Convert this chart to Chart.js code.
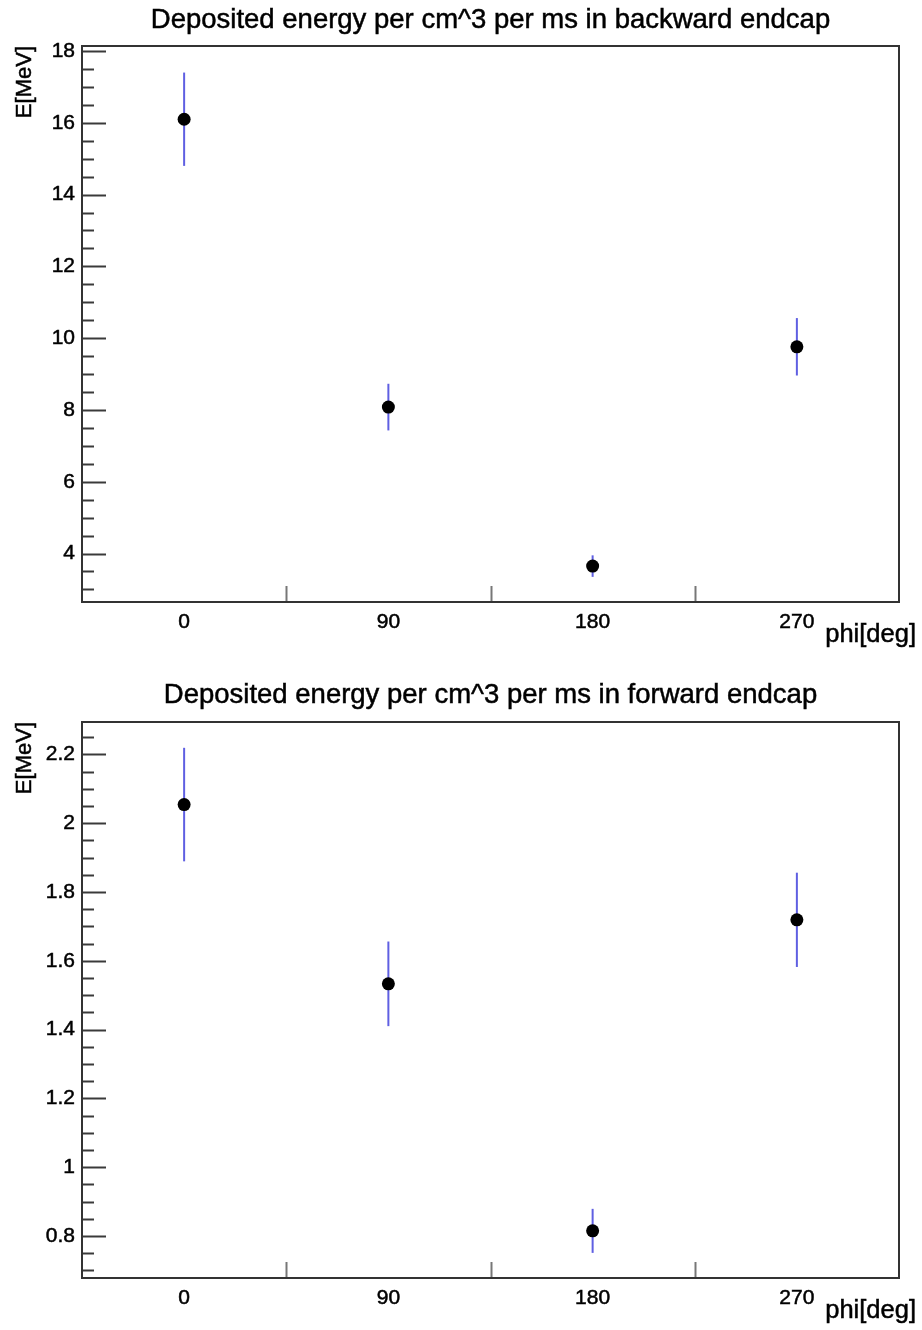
<!DOCTYPE html>
<html>
<head>
<meta charset="utf-8">
<script src="https://cdn.jsdelivr.net/npm/chart.js@4/dist/chart.umd.min.js"></script>
<style>
  html, body { margin: 0; padding: 0; background: #fff; }
  #wrap { position: relative; width: 922px; height: 1330px; }
  canvas { position: absolute; left: 0; }
</style>
</head>
<body>
<div id="wrap">
  <canvas id="backward" width="922" height="676" style="top:0"></canvas>
  <canvas id="forward" width="922" height="654" style="top:676px"></canvas>
</div>
<script>
// --------------------
// Data
// --------------------
const phiLabels = [0, 90, 180, 270];
const binEdges = [45, 135, 225];

const backwardE = [16.1, 8.08, 3.65, 9.76];
const backwardErr = [1.3, 0.65, 0.3, 0.8];

const forwardE = [2.054, 1.533, 0.815, 1.719];
const forwardErr = [0.165, 0.123, 0.064, 0.137];

const FONT = "'Liberation Sans', Arial, Helvetica, sans-serif";

// --------------------
// Plugin: ROOT-like frame, inward ticks and texts
// --------------------
const rootFrame = {
  id: 'rootFrame',
  afterDraw(chart, args, opts) {
    const { ctx, chartArea: a } = chart;
    const x = chart.scales.x, y = chart.scales.y;
    ctx.save();

    // y ticks (inward, long for majors)
    ctx.strokeStyle = '#3a3a3a';
    ctx.lineWidth = 2;
    y.ticks.forEach(t => {
      const py = Math.round(y.getPixelForValue(t.value)) + 0.5;
      const len = isMajor(t.value, opts.major) ? 24 : 12;
      ctx.beginPath();
      ctx.moveTo(a.left, py);
      ctx.lineTo(a.left + len, py);
      ctx.stroke();
    });

    // x ticks at bin edges
    ctx.strokeStyle = '#777';
    binEdges.forEach(e => {
      const px = Math.round(x.getPixelForValue(e)) + 0.5;
      ctx.beginPath();
      ctx.moveTo(px, a.bottom);
      ctx.lineTo(px, a.bottom - 16);
      ctx.stroke();
    });

    // frame
    ctx.strokeStyle = '#333';
    ctx.lineWidth = 2;
    ctx.strokeRect(a.left, a.top, a.right - a.left, a.bottom - a.top);

    // titles (slight stroke to mimic the heavier original rendering)
    ctx.fillStyle = '#000';
    ctx.strokeStyle = '#000';
    ctx.lineWidth = 0.5;
    ctx.textBaseline = 'alphabetic';
    ctx.textAlign = 'center';
    ctx.font = '27.5px ' + FONT;
    ctx.strokeText(opts.title, (a.left + a.right) / 2, opts.titleY);
    ctx.fillText(opts.title, (a.left + a.right) / 2, opts.titleY);

    ctx.textAlign = 'right';
    ctx.font = '25.5px ' + FONT;
    ctx.strokeText('phi[deg]', 916, a.bottom + 40);
    ctx.fillText('phi[deg]', 916, a.bottom + 40);

    ctx.translate(31, a.top);
    ctx.rotate(-Math.PI / 2);
    ctx.textAlign = 'right';
    ctx.font = '22px ' + FONT;
    ctx.strokeText('E[MeV]', 0, 0);
    ctx.fillText('E[MeV]', 0, 0);
    ctx.restore();
  }
};

function isMajor(v, step) {
  const r = v / step;
  return Math.abs(r - Math.round(r)) < 1e-6;
}

function makeChart(id, values, errs, ymin, ymax, minor, major, title, titleY, padBottom) {
  const errorBars = values.map((v, i) => ({
    type: 'line',
    data: [{ x: phiLabels[i], y: v - errs[i] }, { x: phiLabels[i], y: v + errs[i] }],
    borderColor: '#5f5fe2',
    borderWidth: 2,
    pointRadius: 0,
    showLine: true,
    order: 2
  }));

  return new Chart(document.getElementById(id), {
    type: 'scatter',
    data: {
      datasets: [
        ...errorBars,
        {
          data: values.map((v, i) => ({ x: phiLabels[i], y: v })),
          backgroundColor: '#000',
          borderColor: '#000',
          pointRadius: 6.5,
          pointBorderWidth: 0,
          order: 1
        }
      ]
    },
    options: {
      responsive: false,
      animation: false,
      devicePixelRatio: 1,
      layout: { padding: { top: 46, right: 23, left: 0, bottom: padBottom } },
      plugins: {
        legend: { display: false },
        tooltip: { enabled: false },
        rootFrame: { title, titleY, major }
      },
      scales: {
        x: {
          type: 'linear',
          min: -45,
          max: 315,
          afterBuildTicks: s => { s.ticks = phiLabels.map(v => ({ value: v })); },
          afterFit: s => { s.height = 40; },
          grid: { display: false, drawTicks: false },
          border: { display: false },
          ticks: {
            color: '#000', font: { family: FONT, size: 21 }, padding: 8, maxRotation: 0,
            textStrokeColor: '#000', textStrokeWidth: 0.5
          }
        },
        y: {
          min: ymin,
          max: ymax,
          afterBuildTicks: s => {
            const t = [];
            for (let v = Math.ceil(ymin / minor) * minor; v <= ymax + 1e-9; v += minor) {
              t.push({ value: Number(v.toFixed(4)) });
            }
            s.ticks = t;
          },
          afterFit: s => { s.width = 82; },
          grid: { display: false, drawTicks: false },
          border: { display: false },
          ticks: {
            color: '#000',
            font: { family: FONT, size: 21 },
            padding: 7,
            autoSkip: false,
            textStrokeColor: '#000',
            textStrokeWidth: 0.5,
            callback: v => isMajor(v, major) ? String(Number(v.toFixed(2))) : ''
          }
        }
      }
    },
    plugins: [rootFrame]
  });
}

makeChart('backward', backwardE, backwardErr, 2.65, 18.14, 0.5, 2,
  'Deposited energy per cm^3 per ms in backward endcap', 28, 676 - 602 - 40);
makeChart('forward', forwardE, forwardErr, 0.678, 2.294, 0.05, 0.2,
  'Deposited energy per cm^3 per ms in forward endcap', 27, 654 - 602 - 40);
</script>
</body>
</html>
